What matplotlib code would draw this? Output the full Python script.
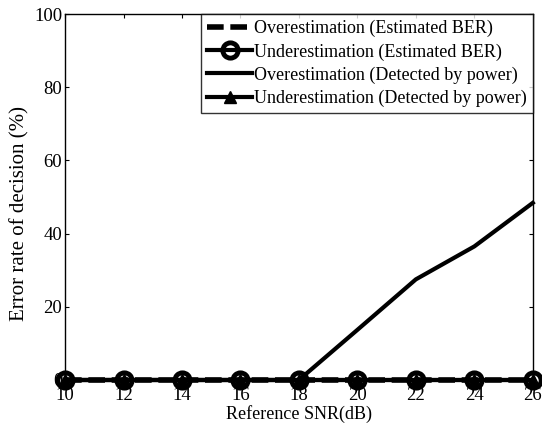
import matplotlib

matplotlib.use("Agg")

import matplotlib.pyplot as plt
import numpy as np

plt.rcParams["font.family"] = ["Liberation Serif", "DejaVu Serif"]

snr_db = [10, 12, 14, 16, 18, 20, 22, 24, 26]
over_est_ber = [0, 0, 0, 0, 0, 0, 0, 0, 0]
under_est_ber = [0, 0, 0, 0, 0, 0, 0, 0, 0]
over_power = [0, 0, 0, 0, 0, 13.7, 27.5, 36.5, 48.4]
under_power = [0, 0, 0, 0, 0, 0, 0, 0, 0]

fig = plt.figure(figsize=(5.42, 4.26), dpi=100)
ax = fig.add_axes([0.120, 0.108, 0.863, 0.859])

ax.plot(snr_db, over_est_ber, color="black", lw=4, linestyle=(0, (3, 1.2)),
        label="Overestimation (Estimated BER)", clip_on=False, zorder=3)
ax.plot(snr_db, under_est_ber, color="black", lw=3, marker="o", markersize=11,
        markerfacecolor="none", markeredgewidth=3.5,
        label="Underestimation (Estimated BER)", clip_on=False, zorder=4)
ax.plot(snr_db, over_power, color="black", lw=3,
        label="Overestimation (Detected by power)", clip_on=False, zorder=3)
ax.plot(snr_db, under_power, color="black", lw=3, marker="^", markersize=9,
        label="Underestimation (Detected by power)", clip_on=False, zorder=4)

ax.set_xlim(10, 26)
ax.set_ylim(0, 100)
ax.set_xticks(snr_db)
ax.set_yticks([0, 20, 40, 60, 80, 100])
ax.tick_params(direction="in", top=True, right=True, labelsize=13.5, length=3,
               width=0.8)
ax.tick_params(axis="x", pad=5)
ax.tick_params(axis="y", pad=2)
for s in ax.spines.values():
    s.set_linewidth(1.0)

ax.set_xlabel("Reference SNR(dB)", fontsize=13, labelpad=1)
ax.set_ylabel("Error rate of decision (%)", fontsize=15, labelpad=3)
ax.yaxis.label.set_y(0.455)

leg = ax.legend(loc="upper right", fontsize=13, frameon=True, fancybox=False,
                borderaxespad=0, handlelength=2.5, handletextpad=0.1,
                labelspacing=0.33, borderpad=0.33)
leg.get_frame().set_edgecolor("black")
leg.get_frame().set_linewidth(1.0)

fig.savefig("out.png", dpi=100)
